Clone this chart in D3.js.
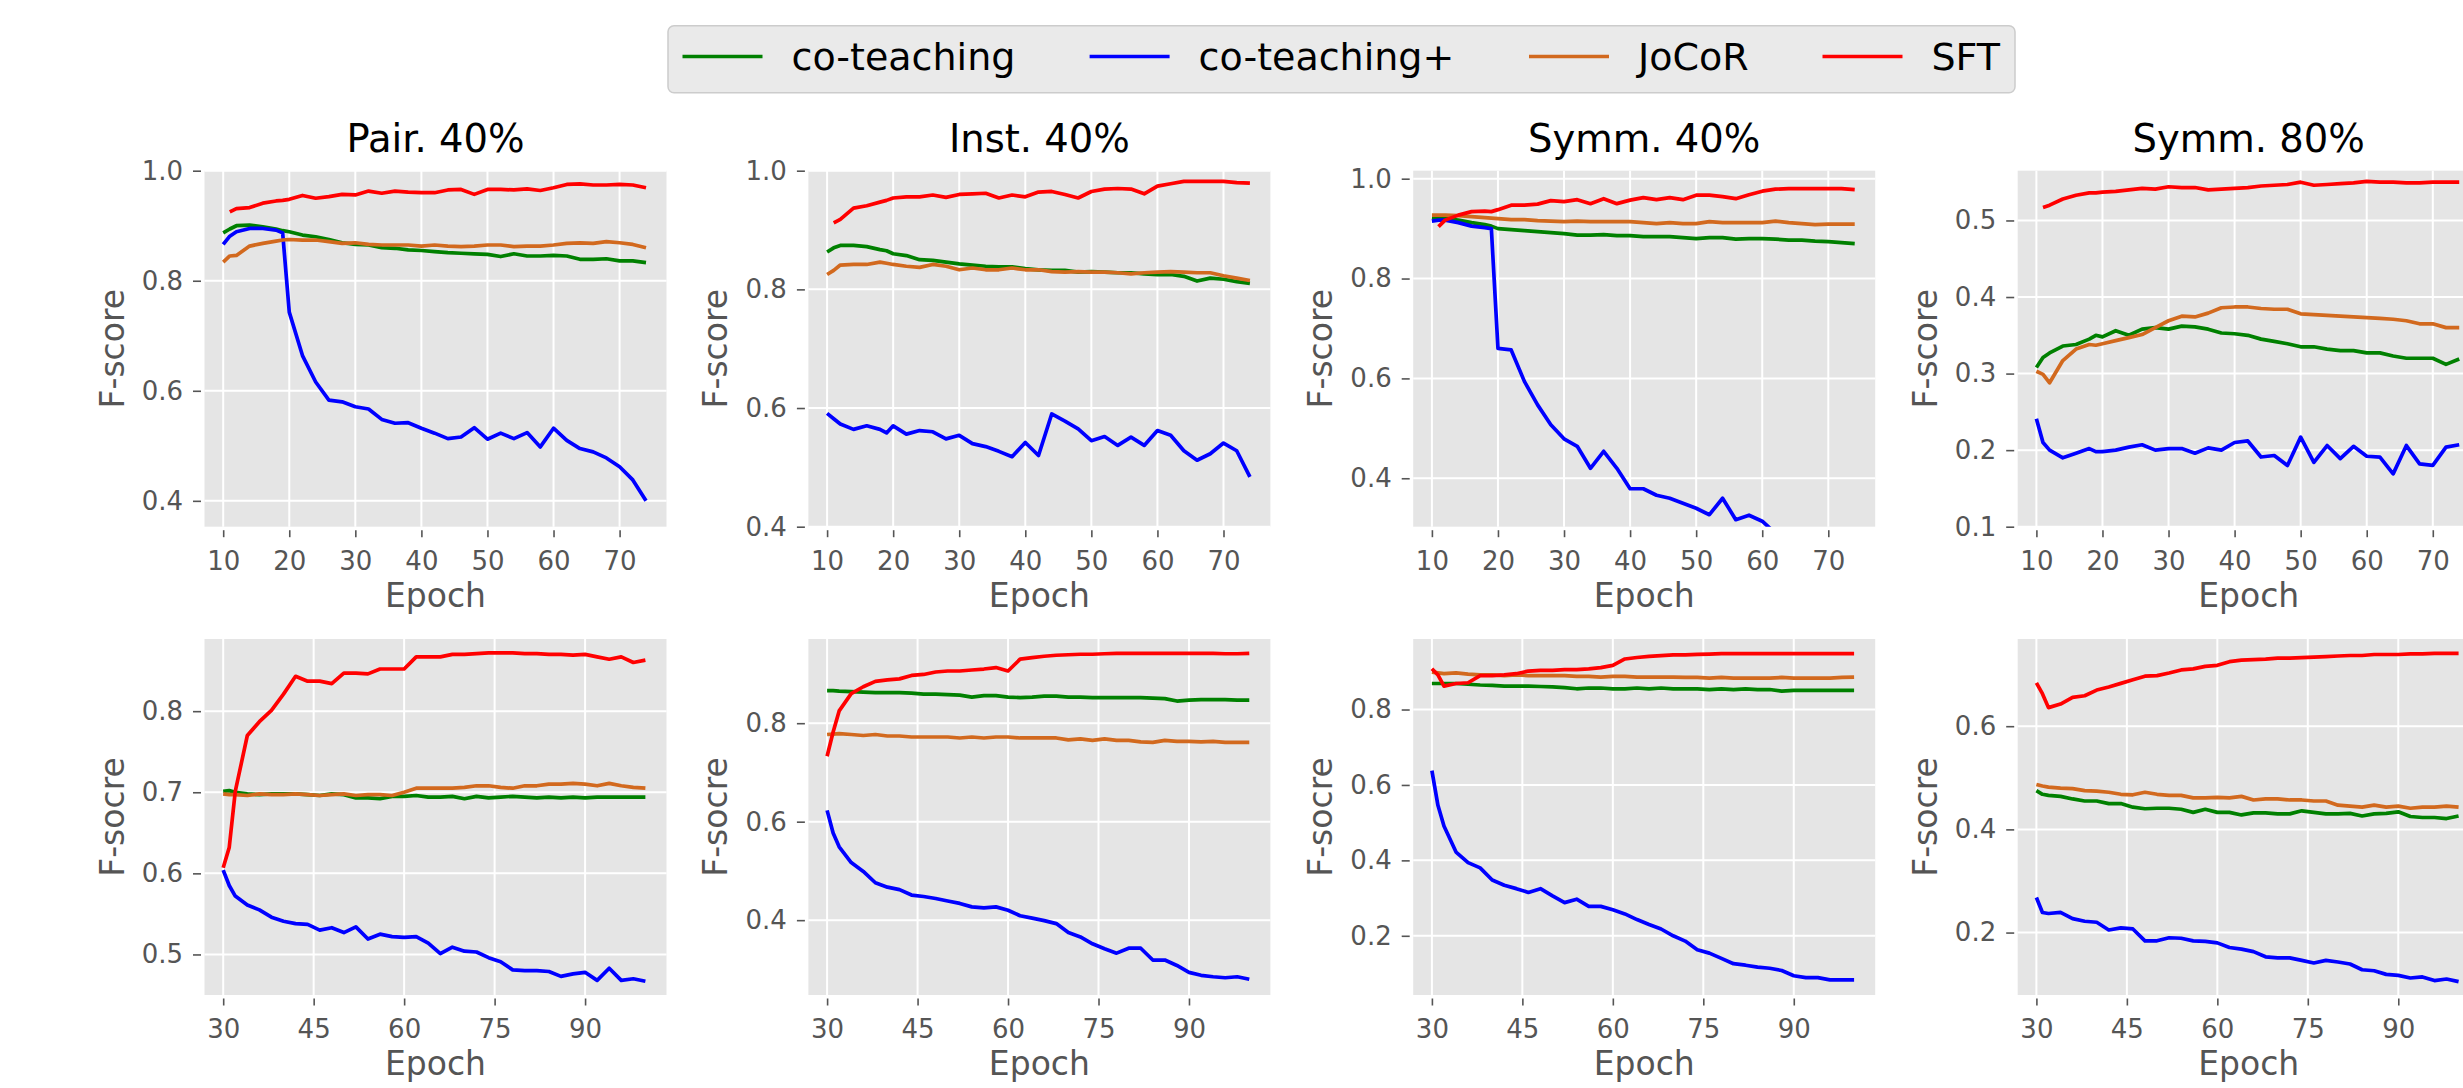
<!DOCTYPE html>
<html lang="en">
<head>
<meta charset="UTF-8">
<title>F-score curves</title>
<script src="https://d3js.org/d3.v7.min.js"></script>
<style>
  body { margin: 0; background: #fff; }
  text { font-family: 'DejaVu Sans', sans-serif; }
</style>
</head>
<body>
<script>

const width  = 2463;
const height = 1088;

const methods = ["co-teaching", "co-teaching+", "JoCoR", "SFT"];
const colors  = ["#008000", "#0000ff", "#d2691e", "#ff0000"];
const titles  = ["Pair. 40%", "Inst. 40%", "Symm. 40%", "Symm. 80%"];

const epochsTop = [10, 11, 12, 14, 16, 18, 19, 20, 22, 24, 26, 28, 30, 32, 34, 36, 38, 40,
                   42, 44, 46, 48, 50, 52, 54, 56, 58, 60, 62, 64, 66, 68, 70, 72, 74];
const epochsBottom = [30, 31, 32, 34, 36, 38, 40, 42, 44, 46, 48, 50, 52, 54, 56, 58, 60, 62, 64,
                      66, 68, 70, 72, 74, 76, 78, 80, 82, 84, 86, 88, 90, 92, 94, 96, 98, 100];

const xTicksTop    = [10, 20, 30, 40, 50, 60, 70];
const xTicksBottom = [30, 45, 60, 75, 90];

const yTicksPairTop   = [0.4, 0.6, 0.8, 1.0];
const yTicksInstTop   = [0.4, 0.6, 0.8, 1.0];
const yTicksSymm40Top = [0.4, 0.6, 0.8, 1.0];
const yTicksSymm80Top = [0.1, 0.2, 0.3, 0.4, 0.5];
const yTicksPairBot   = [0.5, 0.6, 0.7, 0.8];
const yTicksInstBot   = [0.4, 0.6, 0.8];
const yTicksSymm40Bot = [0.2, 0.4, 0.6, 0.8];
const yTicksSymm80Bot = [0.2, 0.4, 0.6];

// each panel: [co-teaching, co-teaching+, JoCoR, SFT]
const pairTop = [
  [0.887,0.894,0.900,0.901,0.898,0.894,0.891,0.889,0.883,0.880,0.875,0.869,0.866,0.865,0.860,0.859,0.856,0.855,0.853,0.851,0.850,0.849,0.848,0.844,0.849,0.845,0.845,0.846,0.845,0.839,0.839,0.840,0.836,0.836,0.833],
  [0.866,0.881,0.889,0.895,0.895,0.892,0.887,0.743,0.664,0.616,0.583,0.580,0.571,0.567,0.548,0.541,0.542,0.532,0.523,0.513,0.516,0.533,0.512,0.523,0.513,0.524,0.498,0.532,0.510,0.495,0.489,0.478,0.462,0.438,0.400],
  [0.834,0.845,0.846,0.863,0.868,0.872,0.874,0.875,0.874,0.874,0.871,0.868,0.869,0.866,0.865,0.865,0.865,0.863,0.865,0.863,0.862,0.863,0.865,0.865,0.862,0.863,0.863,0.865,0.868,0.869,0.868,0.871,0.869,0.866,0.860],
  [null,0.925,0.931,0.933,0.941,0.945,0.946,0.948,0.955,0.950,0.953,0.957,0.956,0.963,0.959,0.963,0.961,0.960,0.960,0.965,0.966,0.957,0.966,0.966,0.965,0.967,0.964,0.969,0.975,0.976,0.974,0.974,0.975,0.974,0.969]
];
const instTop = [
  [0.863,0.870,0.874,0.874,0.872,0.867,0.865,0.860,0.857,0.850,0.849,0.846,0.843,0.841,0.839,0.838,0.838,0.835,0.833,0.832,0.832,0.829,0.830,0.829,0.828,0.828,0.826,0.825,0.825,0.822,0.814,0.819,0.817,0.813,0.810],
  [0.591,0.582,0.573,0.564,0.570,0.564,0.558,0.570,0.556,0.562,0.560,0.548,0.554,0.540,0.535,0.527,0.518,0.542,0.520,0.590,0.578,0.565,0.545,0.552,0.537,0.551,0.537,0.562,0.554,0.528,0.512,0.523,0.541,0.528,0.484],
  [0.825,0.832,0.841,0.842,0.842,0.846,0.844,0.842,0.839,0.837,0.842,0.839,0.833,0.836,0.833,0.833,0.836,0.833,0.833,0.830,0.829,0.830,0.829,0.829,0.828,0.826,0.828,0.829,0.830,0.829,0.828,0.828,0.823,0.819,0.815],
  [null,0.912,0.918,0.937,0.941,0.947,0.950,0.954,0.956,0.956,0.959,0.955,0.960,0.961,0.962,0.954,0.959,0.956,0.964,0.965,0.960,0.954,0.965,0.969,0.970,0.969,0.961,0.974,0.978,0.982,0.982,0.982,0.982,0.980,0.979]
];
const symm40Top = [
  [0.922,0.921,0.920,0.917,0.912,0.908,0.905,0.900,0.898,0.896,0.894,0.892,0.890,0.887,0.887,0.888,0.886,0.886,0.884,0.884,0.884,0.882,0.880,0.882,0.882,0.879,0.880,0.880,0.879,0.877,0.877,0.875,0.874,0.872,0.870],
  [0.915,0.917,0.917,0.912,0.905,0.902,0.900,0.660,0.657,0.594,0.547,0.507,0.479,0.464,0.420,0.454,0.420,0.379,0.379,0.366,0.360,0.350,0.340,0.327,0.360,0.317,0.326,0.314,0.290,null,null,null,null,null,null],
  [0.927,0.927,0.927,0.926,0.924,0.922,0.921,0.920,0.918,0.918,0.916,0.915,0.914,0.915,0.914,0.914,0.914,0.914,0.912,0.910,0.912,0.910,0.910,0.914,0.912,0.912,0.912,0.912,0.915,0.912,0.910,0.908,0.909,0.909,0.909],
  [null,0.904,0.917,0.927,0.934,0.935,0.934,0.938,0.947,0.947,0.949,0.956,0.954,0.958,0.950,0.960,0.950,0.957,0.962,0.958,0.962,0.958,0.967,0.967,0.964,0.960,0.968,0.975,0.979,0.980,0.980,0.980,0.980,0.980,0.978]
];
const symm80Top = [
  [0.308,0.321,0.327,0.336,0.338,0.345,0.350,0.348,0.356,0.350,0.358,0.360,0.358,0.362,0.361,0.358,0.353,0.352,0.350,0.345,0.342,0.339,0.335,0.335,0.332,0.330,0.330,0.327,0.327,0.323,0.320,0.320,0.320,0.312,0.319],
  [0.241,0.210,0.200,0.190,0.196,0.202,0.198,0.198,0.200,0.204,0.207,0.200,0.202,0.202,0.196,0.203,0.200,0.210,0.212,0.191,0.193,0.180,0.217,0.184,0.206,0.189,0.205,0.192,0.191,0.169,0.206,0.182,0.180,0.204,0.207],
  [0.303,0.299,0.288,0.317,0.332,0.338,0.337,0.339,0.343,0.347,0.351,0.360,0.369,0.375,0.374,0.379,0.386,0.387,0.387,0.385,0.384,0.384,0.378,0.377,0.376,0.375,0.374,0.373,0.372,0.371,0.369,0.365,0.365,0.360,0.360],
  [null,0.517,0.520,0.528,0.533,0.536,0.536,0.537,0.538,0.540,0.542,0.541,0.544,0.543,0.543,0.540,0.541,0.542,0.543,0.545,0.546,0.547,0.550,0.546,0.547,0.548,0.549,0.551,0.550,0.550,0.549,0.549,0.550,0.550,0.550]
];

const pairBot = [
  [0.701,0.702,0.700,0.698,0.697,0.698,0.698,0.698,0.697,0.696,0.698,0.697,0.693,0.693,0.692,0.695,0.695,0.696,0.694,0.694,0.695,0.692,0.695,0.693,0.694,0.695,0.694,0.693,0.694,0.693,0.694,0.693,0.694,0.694,0.694,0.694,0.694],
  [0.604,0.585,0.572,0.561,0.555,0.546,0.541,0.538,0.537,0.530,0.533,0.527,0.534,0.519,0.525,0.522,0.521,0.522,0.514,0.501,0.509,0.504,0.503,0.496,0.491,0.481,0.480,0.480,0.479,0.473,0.476,0.478,0.468,0.483,0.468,0.470,0.467],
  [0.698,0.697,0.697,0.696,0.698,0.697,0.697,0.698,0.697,0.696,0.697,0.698,0.696,0.697,0.697,0.696,0.700,0.705,0.705,0.705,0.705,0.706,0.708,0.708,0.706,0.705,0.708,0.708,0.710,0.710,0.711,0.710,0.708,0.711,0.708,0.706,0.705],
  [0.607,0.632,0.701,0.770,0.787,0.801,0.821,0.843,0.837,0.837,0.834,0.847,0.847,0.846,0.852,0.852,0.852,0.867,0.867,0.867,0.870,0.870,0.871,0.872,0.872,0.872,0.871,0.871,0.870,0.870,0.869,0.870,0.867,0.864,0.867,0.860,0.863]
];
const instBot = [
  [0.866,0.866,0.865,0.864,0.863,0.862,0.862,0.862,0.861,0.859,0.859,0.858,0.857,0.853,0.856,0.856,0.853,0.852,0.853,0.855,0.855,0.853,0.853,0.852,0.852,0.852,0.852,0.852,0.851,0.850,0.845,0.847,0.848,0.848,0.848,0.847,0.847],
  [0.623,0.577,0.549,0.517,0.499,0.476,0.467,0.462,0.451,0.448,0.444,0.439,0.434,0.427,0.425,0.427,0.420,0.409,0.404,0.399,0.393,0.375,0.366,0.352,0.342,0.333,0.343,0.343,0.319,0.319,0.308,0.294,0.288,0.285,0.283,0.285,0.280],
  [0.777,0.778,0.779,0.777,0.775,0.777,0.774,0.774,0.772,0.772,0.772,0.772,0.770,0.772,0.770,0.772,0.772,0.770,0.770,0.770,0.770,0.766,0.768,0.765,0.768,0.765,0.765,0.762,0.761,0.765,0.763,0.763,0.762,0.763,0.761,0.761,0.761],
  [0.733,0.782,0.825,0.860,0.874,0.885,0.888,0.890,0.897,0.899,0.904,0.906,0.906,0.908,0.910,0.913,0.906,0.930,0.933,0.936,0.938,0.939,0.940,0.940,0.941,0.942,0.942,0.942,0.942,0.942,0.942,0.942,0.942,0.942,0.941,0.941,0.942]
];
const symm40Bot = [
  [0.869,0.869,0.869,0.869,0.867,0.865,0.864,0.862,0.862,0.862,0.861,0.860,0.858,0.855,0.857,0.857,0.855,0.855,0.857,0.855,0.857,0.855,0.855,0.855,0.853,0.855,0.853,0.855,0.853,0.853,0.849,0.851,0.851,0.851,0.851,0.851,0.851],
  [0.638,0.546,0.491,0.422,0.394,0.380,0.348,0.334,0.325,0.315,0.325,0.306,0.288,0.297,0.278,0.278,0.269,0.258,0.243,0.230,0.218,0.200,0.186,0.163,0.154,0.140,0.126,0.122,0.117,0.114,0.108,0.094,0.089,0.089,0.083,0.083,0.083],
  [0.899,0.897,0.895,0.897,0.894,0.892,0.892,0.890,0.892,0.890,0.890,0.890,0.890,0.888,0.888,0.886,0.888,0.888,0.886,0.886,0.886,0.886,0.885,0.885,0.883,0.885,0.883,0.883,0.883,0.883,0.885,0.883,0.883,0.883,0.883,0.885,0.886],
  [0.908,0.892,0.862,0.869,0.871,0.890,0.890,0.892,0.895,0.902,0.904,0.904,0.906,0.906,0.908,0.911,0.917,0.934,0.938,0.941,0.943,0.945,0.945,0.946,0.947,0.948,0.948,0.948,0.948,0.948,0.948,0.948,0.948,0.948,0.948,0.948,0.948]
];
const symm80Bot = [
  [0.475,0.468,0.466,0.464,0.459,0.455,0.455,0.450,0.450,0.443,0.440,0.441,0.441,0.439,0.433,0.439,0.433,0.433,0.428,0.432,0.432,0.430,0.430,0.436,0.433,0.430,0.430,0.431,0.426,0.430,0.431,0.434,0.425,0.423,0.423,0.421,0.426],
  [0.268,0.239,0.237,0.239,0.227,0.222,0.220,0.205,0.209,0.207,0.184,0.184,0.190,0.189,0.184,0.183,0.180,0.171,0.168,0.163,0.153,0.151,0.151,0.146,0.141,0.146,0.143,0.139,0.128,0.126,0.119,0.117,0.112,0.114,0.107,0.110,0.105],
  [0.487,0.484,0.482,0.480,0.479,0.475,0.474,0.472,0.468,0.467,0.472,0.468,0.466,0.466,0.461,0.461,0.462,0.461,0.464,0.457,0.459,0.459,0.457,0.457,0.455,0.455,0.447,0.445,0.443,0.447,0.443,0.445,0.441,0.443,0.443,0.445,0.443],
  [0.684,0.663,0.636,0.643,0.656,0.659,0.670,0.676,0.683,0.690,0.697,0.698,0.703,0.709,0.711,0.716,0.718,0.725,0.728,0.729,0.730,0.732,0.732,0.733,0.734,0.735,0.736,0.737,0.737,0.739,0.739,0.739,0.740,0.740,0.741,0.741,0.741]
];

// layout (matplotlib figure, right column cut off by the picture edge)
const colLeft = [204.5, 808.4, 1413.2, 2017.7];
const rowTop  = [170.7, 639];
const plotW = 462, plotH = 356;
const lineW = 3.7;

const panels = [
  {row: 0, col: 0, series: pairTop,   yDomain: [0.353, 1.0],   yTicks: yTicksPairTop},
  {row: 0, col: 1, series: instTop,   yDomain: [0.4, 1.0],     yTicks: yTicksInstTop},
  {row: 0, col: 2, series: symm40Top, yDomain: [0.303, 1.016], yTicks: yTicksSymm40Top},
  {row: 0, col: 3, series: symm80Top, yDomain: [0.1, 0.565],   yTicks: yTicksSymm80Top},
  {row: 1, col: 0, series: pairBot,   yDomain: [0.45, 0.889],  yTicks: yTicksPairBot},
  {row: 1, col: 1, series: instBot,   yDomain: [0.248, 0.971], yTicks: yTicksInstBot},
  {row: 1, col: 2, series: symm40Bot, yDomain: [0.043, 0.987], yTicks: yTicksSymm40Bot},
  {row: 1, col: 3, series: symm80Bot, yDomain: [0.079, 0.769], yTicks: yTicksSymm80Bot}
];

const svg = d3.select("body")
        .append("svg")
        .attr("width", width)
        .attr("height", height)
        .style("display", "block");

svg.append("rect").attr("width", width).attr("height", height).attr("fill", "#fff");

panels.forEach((p, idx) => draw(p, idx));

function draw(p, idx) {
    const x0 = colLeft[p.col];
    const y0 = rowTop[p.row];
    const epochs = p.row === 0 ? epochsTop : epochsBottom;
    const xTicks = p.row === 0 ? xTicksTop : xTicksBottom;

    const x = d3.scaleLinear()
            .domain(p.row === 0 ? [7.17, 77.1] : [26.9, 103.5])
            .range([0, plotW]);
    const y = d3.scaleLinear()
            .domain(p.yDomain)
            .range([plotH, 0]);

    const g = svg.append("g")
            .attr("transform", "translate(" + [x0, y0] + ")");

    g.append("rect")
            .attr("width", plotW)
            .attr("height", plotH)
            .attr("fill", "#e5e5e5");

    g.append("clipPath").attr("id", "clip" + idx)
        .append("rect").attr("width", plotW).attr("height", plotH);

    // white grid
    g.selectAll(".gx").data(xTicks).enter().append("line")
            .attr("x1", d => x(d)).attr("x2", d => x(d))
            .attr("y1", 0).attr("y2", plotH)
            .attr("stroke", "#fff").attr("stroke-width", 2);
    g.selectAll(".gy").data(p.yTicks).enter().append("line")
            .attr("x1", 0).attr("x2", plotW)
            .attr("y1", d => y(d)).attr("y2", d => y(d))
            .attr("stroke", "#fff").attr("stroke-width", 2);

    // axes
    const xAxis = d3.axisBottom(x).tickValues(xTicks).tickSize(7).tickPadding(14);
    const yAxis = d3.axisLeft(y).tickValues(p.yTicks).tickSize(8).tickPadding(10)
            .tickFormat(d3.format(".1f"));

    const gx = g.append("g").attr("transform", "translate(0," + (plotH + 3.5) + ")").call(xAxis);
    const gy = g.append("g").attr("transform", "translate(-3.5,0)").call(yAxis);
    [gx, gy].forEach(a => {
        a.select(".domain").remove();
        a.selectAll("line").attr("stroke", "#555").attr("stroke-width", 1.6);
        a.selectAll("text").attr("fill", "#555").style("font-size", "26px");
    });

    // curves
    const line = d3.line()
            .defined(d => d[1] !== null)
            .x(d => x(d[0]))
            .y(d => y(d[1]));

    g.append("g").attr("clip-path", "url(#clip" + idx + ")")
        .selectAll("path")
        .data(p.series)
        .enter()
        .append("path")
        .attr("d", s => line(s.map((v, i) => [epochs[i], v])))
        .attr("fill", "none")
        .attr("stroke", (s, i) => colors[i])
        .attr("stroke-width", lineW)
        .attr("stroke-linejoin", "round");

    // labels
    if (p.row === 0) {
        g.append("text")
                .text(titles[p.col])
                .attr("x", plotW / 2)
                .attr("y", -19)
                .attr("text-anchor", "middle")
                .attr("fill", "#000")
                .style("font-size", "38.5px");
    }
    g.append("text")
            .text("Epoch")
            .attr("x", plotW / 2)
            .attr("y", plotH + 80)
            .attr("text-anchor", "middle")
            .attr("fill", "#555")
            .style("font-size", "33px");
    g.append("text")
            .text(p.row === 0 ? "F-score" : "F-socre")
            .attr("transform", "translate(" + [-81, plotH / 2] + ") rotate(-90)")
            .attr("text-anchor", "middle")
            .attr("fill", "#555")
            .style("font-size", "33px");
}

// legend
const legendX = [682.5, 1089.6, 1529, 1822.5];
const legend = svg.append("g");
legend.append("rect")
        .attr("x", 668).attr("y", 25.7)
        .attr("width", 1347).attr("height", 67)
        .attr("rx", 6)
        .attr("fill", "#eaeaea")
        .attr("stroke", "#cccccc")
        .attr("stroke-width", 1.5);
methods.forEach((m, i) => {
    legend.append("line")
            .attr("x1", legendX[i]).attr("x2", legendX[i] + 80)
            .attr("y1", 56.5).attr("y2", 56.5)
            .attr("stroke", colors[i]).attr("stroke-width", lineW);
    legend.append("text")
            .text(m)
            .attr("x", legendX[i] + 109)
            .attr("y", 70)
            .attr("fill", "#000")
            .style("font-size", "38px");
});

</script>
</body>
</html>
